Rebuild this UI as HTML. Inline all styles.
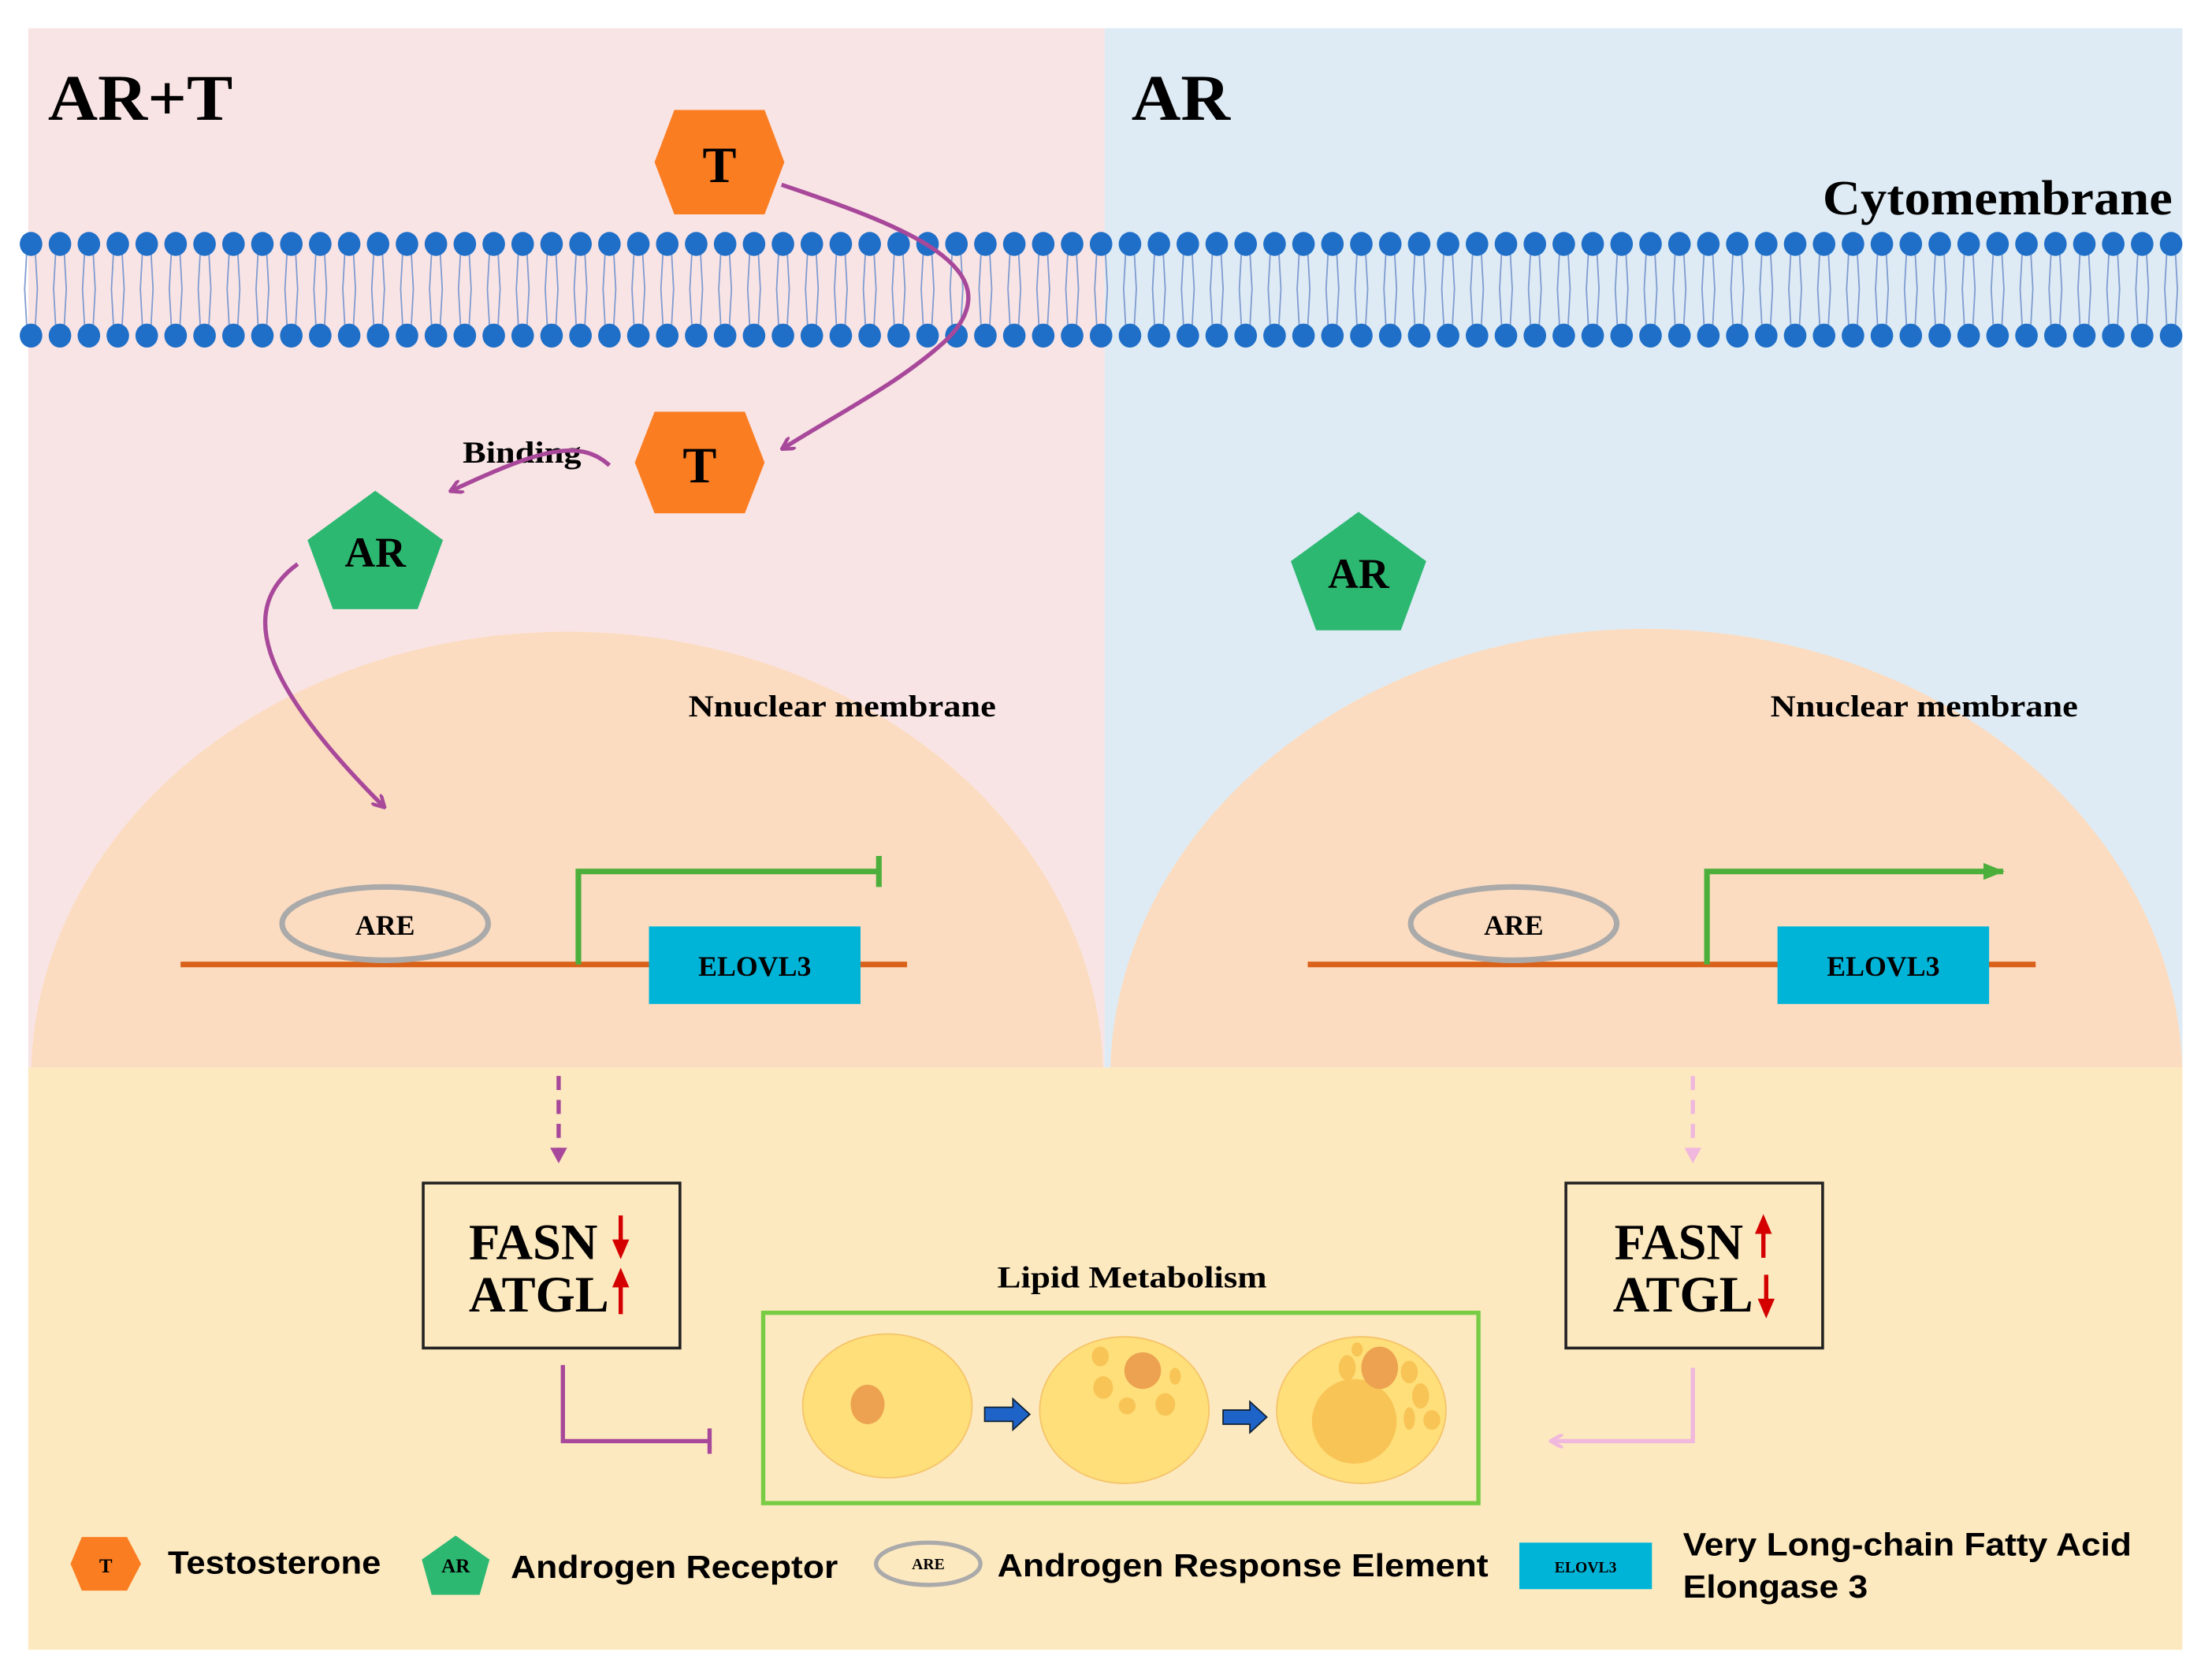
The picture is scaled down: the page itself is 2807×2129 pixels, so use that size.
<!DOCTYPE html>
<html><head><meta charset="utf-8"><style>
html,body{margin:0;padding:0;background:#fff;width:2807px;height:2129px;overflow:hidden}
svg{display:block}
.s{font-family:"Liberation Serif",serif;font-weight:bold}
.a{font-family:"Liberation Sans",sans-serif;font-weight:bold}
</style></head><body>
<svg id="sv" width="2807" height="2129" viewBox="0 0 1568 1190" preserveAspectRatio="none" xmlns="http://www.w3.org/2000/svg">
<defs>
<marker id="mp" markerWidth="10" markerHeight="10" refX="8" refY="5" orient="auto" markerUnits="userSpaceOnUse"><path d="M0,0 L9,5 L0,10" fill="none" stroke="#a8489a" stroke-width="2.5"/></marker>
<marker id="mk" markerWidth="10" markerHeight="10" refX="8" refY="5" orient="auto" markerUnits="userSpaceOnUse"><path d="M0,0 L9,5 L0,10" fill="none" stroke="#f0b8dc" stroke-width="2.5"/></marker>
<marker id="mg" markerWidth="16" markerHeight="14" refX="14" refY="7" orient="auto" markerUnits="userSpaceOnUse"><path d="M0,1 L15,7 L0,13z" fill="#4caf3c"/></marker>
<clipPath id="cl"><rect x="20" y="20" width="763" height="737"/></clipPath>
<clipPath id="cr"><rect x="783" y="20" width="764" height="737"/></clipPath>
</defs>
<rect x="20" y="20" width="763" height="737" fill="#f9e4e5"/>
<rect x="783" y="20" width="764" height="737" fill="#deebf4"/>
<ellipse cx="402" cy="765" rx="380" ry="317" fill="#fcdcc0" clip-path="url(#cl)"/>
<ellipse cx="1167" cy="765" rx="380" ry="319" fill="#fcdcc0" clip-path="url(#cr)"/>
<rect x="20" y="757" width="1527" height="413" fill="#fde9c0"/>
<g id="mem"></g>
<text x="34" y="85" class="s" font-size="46" textLength="131" lengthAdjust="spacingAndGlyphs">AR+T</text>
<text x="802" y="85" class="s" font-size="46" textLength="70" lengthAdjust="spacingAndGlyphs">AR</text>
<text x="1292" y="152" class="s" font-size="35" textLength="248" lengthAdjust="spacingAndGlyphs">Cytomembrane</text>
<polygon points="478,78 542,78 556,115 542,152 478,152 464,115" fill="#fb7d22"/>
<text x="510" y="129" class="s" font-size="36" text-anchor="middle">T</text>
<polygon points="464,292 528,292 542,328 528,364 464,364 450,328" fill="#fb7d22"/>
<text x="496" y="342" class="s" font-size="36" text-anchor="middle">T</text>
<path d="M554,131 C640,160 720,190 672,240 C640,270 600,290 555,318" fill="none" stroke="#a8489a" stroke-width="3" marker-end="url(#mp)"/>
<text x="328" y="328" class="s" font-size="22" textLength="84" lengthAdjust="spacingAndGlyphs">Binding</text>
<path d="M432,330 C410,310 380,320 320,348" fill="none" stroke="#a8489a" stroke-width="3" marker-end="url(#mp)"/>
<polygon points="266,348 314,383 296,432 236,432 218,383" fill="#2db872"/>
<text x="266" y="402" class="s" font-size="30" text-anchor="middle">AR</text>
<polygon points="963,363 1011,398 993,447 933,447 915,398" fill="#2db872"/>
<text x="963" y="417" class="s" font-size="30" text-anchor="middle">AR</text>
<path d="M211,400 C170,430 180,480 272,572" fill="none" stroke="#a8489a" stroke-width="3" marker-end="url(#mp)"/>
<text x="488" y="508" class="s" font-size="22" textLength="218" lengthAdjust="spacingAndGlyphs">Nnuclear membrane</text>
<text x="1255" y="508" class="s" font-size="22" textLength="218" lengthAdjust="spacingAndGlyphs">Nnuclear membrane</text>
<line x1="128" y1="684" x2="643" y2="684" stroke="#d9621a" stroke-width="4"/>
<ellipse cx="273" cy="655" rx="73" ry="26" fill="none" stroke="#aaa" stroke-width="4"/>
<text x="273" y="663" class="s" font-size="20" text-anchor="middle">ARE</text>
<rect x="460" y="657" width="150" height="55" fill="#00b4d8"/>
<text x="535" y="692" class="s" font-size="20" text-anchor="middle">ELOVL3</text>
<path d="M410,684 V618 H623" fill="none" stroke="#4caf3c" stroke-width="4"/>
<line x1="623" y1="607" x2="623" y2="629" stroke="#4caf3c" stroke-width="4"/>
<line x1="927" y1="684" x2="1443" y2="684" stroke="#d9621a" stroke-width="4"/>
<ellipse cx="1073" cy="655" rx="73" ry="26" fill="none" stroke="#aaa" stroke-width="4"/>
<text x="1073" y="663" class="s" font-size="20" text-anchor="middle">ARE</text>
<rect x="1260" y="657" width="150" height="55" fill="#00b4d8"/>
<text x="1335" y="692" class="s" font-size="20" text-anchor="middle">ELOVL3</text>
<path d="M1210,684 V618 H1420" fill="none" stroke="#4caf3c" stroke-width="4" marker-end="url(#mg)"/>
<line x1="396" y1="763" x2="396" y2="815" stroke="#a8489a" stroke-width="3" stroke-dasharray="10,7"/>
<path d="M390,814 L402,814 L396,825z" fill="#a8489a"/>
<line x1="1200" y1="763" x2="1200" y2="815" stroke="#f0b8dc" stroke-width="3" stroke-dasharray="10,7"/>
<path d="M1194,814 L1206,814 L1200,825z" fill="#f0b8dc"/>
<rect x="300" y="839" width="182" height="117" fill="none" stroke="#222" stroke-width="2"/>
<text x="378" y="893" class="s" font-size="36" text-anchor="middle">FASN</text>
<text x="382" y="930" class="s" font-size="36" text-anchor="middle">ATGL</text>
<path d="M440,862 V888" stroke="#d40000" stroke-width="3"/><path d="M434,879 L446,879 L440,893z" fill="#d40000"/>
<path d="M440,932 V904" stroke="#d40000" stroke-width="3"/><path d="M434,913 L446,913 L440,899z" fill="#d40000"/>
<rect x="1110" y="839" width="182" height="117" fill="none" stroke="#222" stroke-width="2"/>
<text x="1190" y="893" class="s" font-size="36" text-anchor="middle">FASN</text>
<text x="1193" y="930" class="s" font-size="36" text-anchor="middle">ATGL</text>
<path d="M1250,892 V866" stroke="#d40000" stroke-width="3"/><path d="M1244,875 L1256,875 L1250,861z" fill="#d40000"/>
<path d="M1252,904 V930" stroke="#d40000" stroke-width="3"/><path d="M1246,921 L1258,921 L1252,935z" fill="#d40000"/>
<path d="M399,968 V1022 H503" fill="none" stroke="#a8489a" stroke-width="3"/>
<line x1="503" y1="1013" x2="503" y2="1031" stroke="#a8489a" stroke-width="3"/>
<path d="M1200,970 V1022 H1100" fill="none" stroke="#f0b8dc" stroke-width="3" marker-end="url(#mk)"/>
<text x="707" y="913" class="s" font-size="22" textLength="191" lengthAdjust="spacingAndGlyphs">Lipid Metabolism</text>
<rect x="541" y="931" width="507" height="135" fill="#fde9c0" stroke="#77cc44" stroke-width="3"/>
<ellipse cx="629" cy="997" rx="60" ry="51" fill="#fedf7a" stroke="#f5c46a" stroke-width="1"/>
<ellipse cx="615" cy="996" rx="12" ry="14" fill="#eca250"/>
<ellipse cx="797" cy="1000" rx="60" ry="52" fill="#fedf7a" stroke="#f5c46a" stroke-width="1"/>
<ellipse cx="810" cy="972" rx="13" ry="13" fill="#eca250"/>
<ellipse cx="780" cy="962" rx="6" ry="7" fill="#f8c456"/><ellipse cx="782" cy="984" rx="7" ry="8" fill="#f8c456"/>
<ellipse cx="826" cy="996" rx="7" ry="8" fill="#f8c456"/><ellipse cx="799" cy="997" rx="6" ry="6" fill="#f8c456"/><ellipse cx="833" cy="976" rx="4" ry="6" fill="#f8c456"/>
<ellipse cx="965" cy="1000" rx="60" ry="52" fill="#fedf7a" stroke="#f5c46a" stroke-width="1"/>
<ellipse cx="960" cy="1008" rx="30" ry="30" fill="#f8c456"/>
<ellipse cx="978" cy="970" rx="13" ry="15" fill="#eca250"/>
<ellipse cx="955" cy="970" rx="6" ry="9" fill="#f8c456"/><ellipse cx="999" cy="973" rx="6" ry="8" fill="#f8c456"/>
<ellipse cx="1007" cy="990" rx="6" ry="9" fill="#f8c456"/><ellipse cx="1015" cy="1007" rx="6" ry="7" fill="#f8c456"/><ellipse cx="999" cy="1006" rx="4" ry="8" fill="#f8c456"/><ellipse cx="962" cy="957" rx="4" ry="5" fill="#f8c456"/>
<path d="M698,998 H718 V992 L730,1003 L718,1014 V1008 H698z" fill="#1e63c8" stroke="#123" stroke-width="1"/>
<path d="M867,1000 H886 V994 L898,1005 L886,1016 V1010 H867z" fill="#1e63c8" stroke="#123" stroke-width="1"/>
<polygon points="58,1090 90,1090 100,1109 90,1128 58,1128 50,1109" fill="#fb7d22"/>
<text x="75" y="1115" class="s" font-size="14" text-anchor="middle">T</text>
<text x="119" y="1116" class="a" font-size="23" textLength="151" lengthAdjust="spacingAndGlyphs">Testosterone</text>
<polygon points="323,1089 347,1106 340,1131 306,1131 299,1106" fill="#2db872"/>
<text x="323" y="1115" class="s" font-size="14" text-anchor="middle">AR</text>
<text x="362" y="1119" class="a" font-size="23" textLength="232" lengthAdjust="spacingAndGlyphs">Androgen Receptor</text>
<ellipse cx="658" cy="1109" rx="37" ry="15" fill="none" stroke="#aaa" stroke-width="3"/>
<text x="658" y="1113" class="s" font-size="11" text-anchor="middle">ARE</text>
<text x="707" y="1118" class="a" font-size="23" textLength="348" lengthAdjust="spacingAndGlyphs">Androgen Response Element</text>
<rect x="1077" y="1094" width="94" height="33" fill="#00b4d8"/>
<text x="1124" y="1115" class="s" font-size="11" text-anchor="middle">ELOVL3</text>
<text x="1193" y="1103" class="a" font-size="23" textLength="318" lengthAdjust="spacingAndGlyphs">Very Long-chain Fatty Acid</text>
<text x="1193" y="1133" class="a" font-size="23" textLength="131" lengthAdjust="spacingAndGlyphs">Elongase 3</text>
</svg>
<script>
(function(){var g=document.getElementById('mem'),h='';
for(var x=22;x<=1540;x+=20.5){
 h+='<path d="M'+(x-3)+',178 L'+(x-4.5)+',205 L'+(x-3)+',232 M'+(x+3)+',178 L'+(x+4.5)+',205 L'+(x+3)+',232" fill="none" stroke="#7f9bd0" stroke-width="1"/>';
 h+='<ellipse cx="'+x+'" cy="173" rx="8" ry="8.5" fill="#1f6fc8"/><ellipse cx="'+x+'" cy="238" rx="8" ry="8.5" fill="#1f6fc8"/>';
}
g.innerHTML=h;})();
</script>
</body></html>
